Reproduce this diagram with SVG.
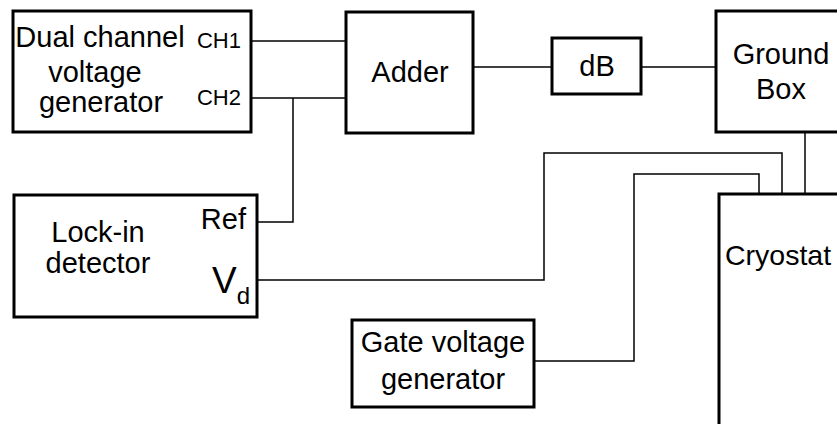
<svg xmlns="http://www.w3.org/2000/svg" width="837" height="424" viewBox="0 0 837 424">
<style>
.box{fill:#fff;stroke:#000;stroke-width:3}
.t{font-family:"Liberation Sans",Arial,sans-serif;font-size:29px;fill:#000}
.m{text-anchor:middle}
.e{text-anchor:end}
.s{font-size:22px}
.c{font-size:28.5px}
.v{font-size:37px}
.sub{font-size:24px}
.w{fill:none;stroke:#000;stroke-width:1.5}
</style>
<rect width="837" height="424" fill="#fff"/>
<g id="connectors">
<path class="w" d="M251 41H346"/>
<path class="w" d="M251 98H346"/>
<path class="w" d="M293 98V222H257"/>
<path class="w" d="M473 67H552"/>
<path class="w" d="M641 67H716"/>
<path class="w" d="M805 132V194"/>
<path class="w" d="M257 280H544V153H782V194"/>
<path class="w" d="M534 361H634V174H759V194"/>
</g>
<g id="dual">
<rect class="box" x="13" y="11" width="238" height="121"/>
<text class="t m" x="100" y="47">Dual channel</text>
<text class="t m" x="95" y="82">voltage</text>
<text class="t m" x="101" y="112">generator</text>
<text class="t s e" x="241" y="48">CH1</text>
<text class="t s e" x="241" y="105">CH2</text>
</g>
<g id="adder">
<rect class="box" x="346" y="12" width="127" height="121"/>
<text class="t m" x="410" y="82">Adder</text>
</g>
<g id="db">
<rect class="box" x="552" y="38" width="89" height="56"/>
<text class="t m" x="597" y="76">dB</text>
</g>
<g id="ground">
<rect class="box" x="716" y="11" width="130" height="121"/>
<text class="t m" x="781" y="64">Ground</text>
<text class="t m" x="781" y="99">Box</text>
</g>
<g id="lockin">
<rect class="box" x="14" y="195" width="243" height="122"/>
<text class="t m" x="98" y="242">Lock-in</text>
<text class="t m" x="98" y="273">detector</text>
<text class="t e" x="246" y="229">Ref</text>
<text class="t v" x="212" y="293">V<tspan class="sub" dy="11">d</tspan></text>
</g>
<g id="gate">
<rect class="box" x="352" y="320" width="182" height="87"/>
<text class="t m" x="443" y="352">Gate voltage</text>
<text class="t m" x="443" y="389">generator</text>
</g>
<g id="cryostat">
<rect class="box" x="719" y="194" width="130" height="240"/>
<text class="t c" x="725" y="265">Cryostat</text>
</g>
</svg>
